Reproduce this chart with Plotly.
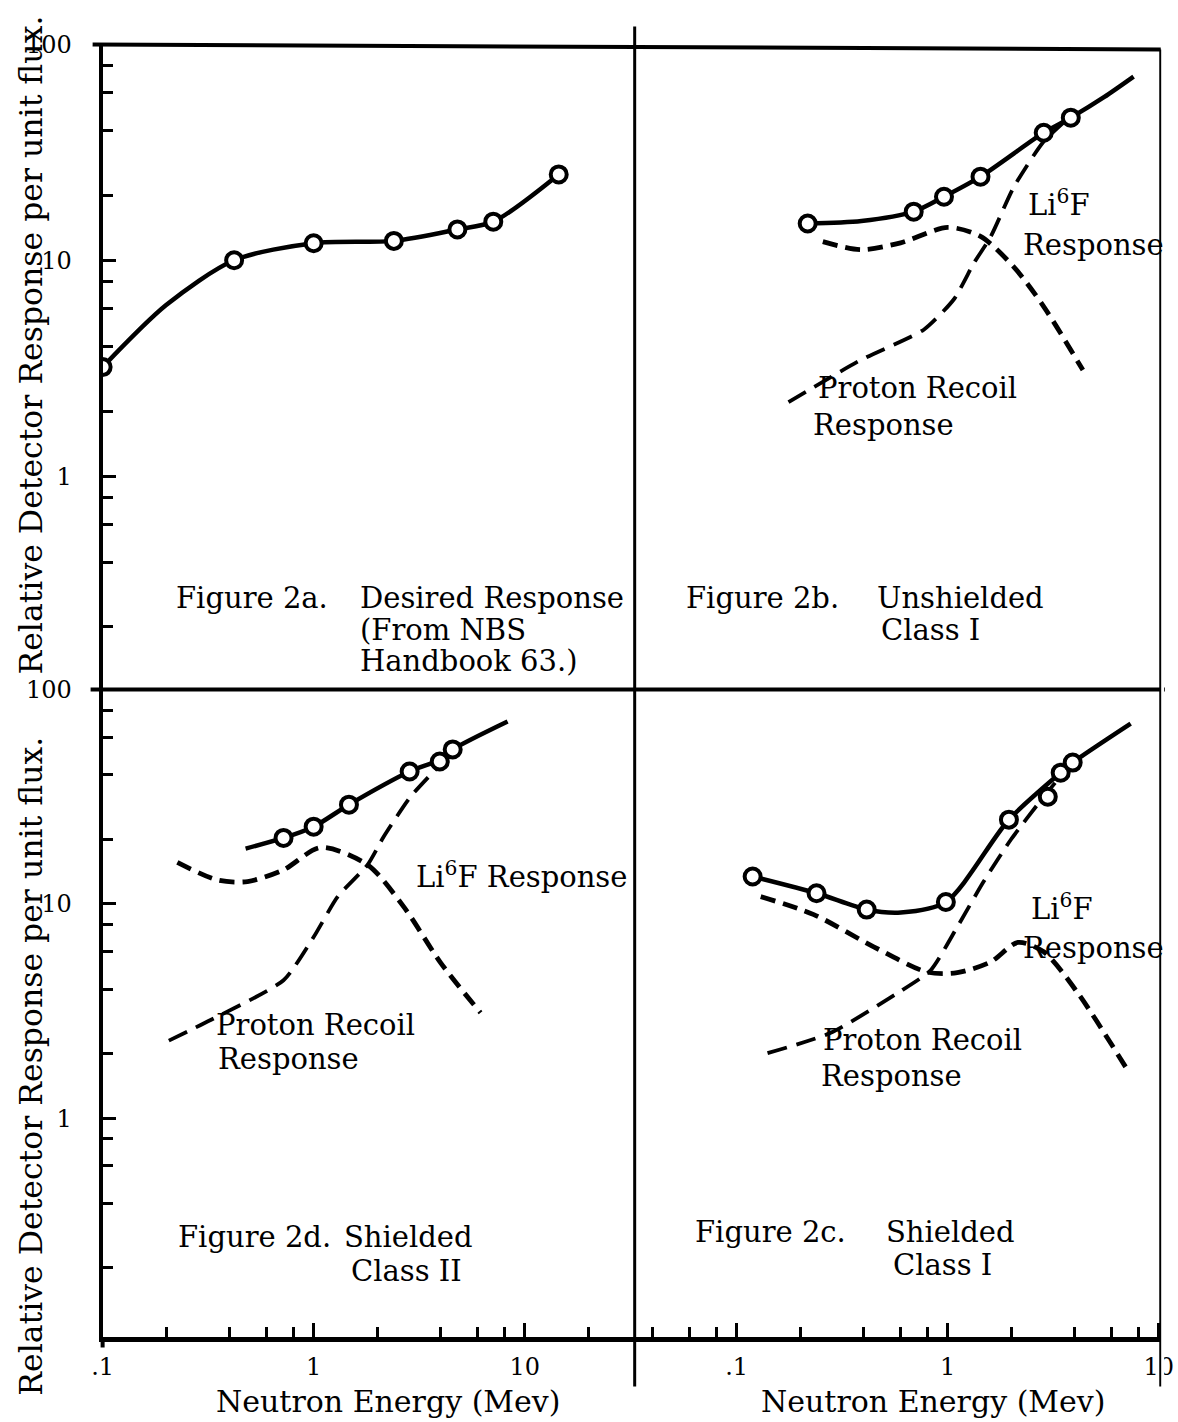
import plotly.graph_objects as go

W, H = 1178, 1422

# ---------------- data ----------------
# Figure 2a  Desired response
fig2a_curve_energy = [0.1, 0.2, 0.42, 1.0, 2.4, 4.8, 7.1, 14.5]
fig2a_curve_resp = [3.2, 6.2, 10.0, 12.0, 12.3, 13.9, 15.1, 25.0]
fig2a_pts_energy = [0.1, 0.42, 1.0, 2.4, 4.8, 7.1, 14.5]
fig2a_pts_resp = [3.2, 10.0, 12.0, 12.3, 13.9, 15.1, 25.0]

# Figure 2b  Unshielded Class I
fig2b_curve_energy = [0.217, 0.39, 0.69, 0.96, 1.43, 2.85, 3.83, 5.5, 7.6]
fig2b_curve_resp = [14.8, 15.2, 16.8, 19.7, 24.4, 39.0, 45.8, 57.0, 71.0]
fig2b_pts_energy = [0.217, 0.69, 0.96, 1.43, 2.85, 3.83]
fig2b_pts_resp = [14.8, 16.8, 19.7, 24.4, 39.0, 45.8]
fig2b_lif_energy = [0.256, 0.387, 0.598, 1.0, 1.43, 2.06, 2.85, 4.37]
fig2b_lif_resp = [12.2, 11.2, 12.05, 14.2, 12.9, 9.3, 6.1, 3.1]
fig2b_proton_energy = [0.176, 0.387, 0.77, 1.07, 1.33, 1.6, 2.06, 2.85, 3.96]
fig2b_proton_resp = [2.2, 3.45, 4.77, 6.6, 9.7, 12.9, 21.9, 35.5, 48.0]

# Figure 2d  Shielded Class II
fig2d_curve_energy = [0.476, 0.72, 1.0, 1.47, 2.85, 3.96, 4.56, 8.3]
fig2d_curve_resp = [18.1, 20.3, 22.9, 29.0, 41.4, 47.0, 52.5, 70.9]
fig2d_pts_energy = [0.72, 1.0, 1.47, 2.85, 3.96, 4.56]
fig2d_pts_resp = [20.3, 22.9, 29.0, 41.4, 46.1, 52.5]
fig2d_lif_energy = [0.226, 0.351, 0.486, 0.72, 1.08, 1.8, 2.67, 4.0, 6.18]
fig2d_lif_resp = [15.6, 12.9, 12.7, 14.4, 18.3, 15.2, 9.7, 5.3, 3.1]
fig2d_proton_energy = [0.206, 0.325, 0.72, 1.0, 1.3, 1.8, 2.15, 2.88, 3.87]
fig2d_proton_resp = [2.3, 2.87, 4.4, 7.0, 10.8, 15.2, 20.6, 31.6, 43.3]

# Figure 2c  Shielded Class I
fig2c_curve_energy = [0.119, 0.239, 0.413, 0.6, 0.98, 1.95, 3.43, 3.91, 7.36]
fig2c_curve_resp = [13.4, 11.2, 9.4, 9.1, 10.2, 24.7, 40.9, 45.6, 69.3]
fig2c_pts_energy = [0.119, 0.239, 0.413, 0.98, 1.95, 2.98, 3.43, 3.91]
fig2c_pts_resp = [13.4, 11.2, 9.4, 10.2, 24.7, 31.6, 40.9, 45.6]
fig2c_lif_energy = [0.13, 0.232, 0.446, 0.80, 1.11, 1.6, 2.15, 2.85, 4.13, 7.13]
fig2c_lif_resp = [10.8, 8.9, 6.3, 4.8, 4.77, 5.36, 6.6, 5.97, 3.84, 1.67]
fig2c_proton_energy = [0.14, 0.279, 0.58, 0.83, 1.11, 1.48, 1.99, 2.85, 3.55]
fig2c_proton_resp = [2.01, 2.5, 3.84, 4.9, 7.8, 12.7, 19.9, 31.6, 41.0]

# ticks
y_major_vals = [1, 10, 100]
y_major_text = ["1", "10", "100"]
y_minor_vals = [0.2, 0.4, 0.6, 0.8, 2, 4, 6, 8, 20, 40, 60, 80]
xl_major_vals = [0.1, 1, 10]
xl_major_text = [".1", "1", "10"]
xl_minor_vals = [0.2, 0.4, 0.6, 0.8, 2, 4, 6, 8, 20]
xr_major_vals = [0.1, 1, 10]
xr_major_text = [".1", "1", "10"]
xr_minor_vals = [0.04, 0.06, 0.08, 0.2, 0.4, 0.6, 0.8, 2, 4, 6, 8]

FONT = "DejaVu Serif"

# positions below are given in target-picture pixels and converted to paper fractions
OX, SX = 10.4, 0.9795
OY, SY = 14.6, 0.9886


def px(xp):
    return min(max((xp - OX) / SX / W, 0.0), 1.0)


def py(yp):
    return min(max(1 - (yp - OY) / SY / H, 0.0), 1.0)


fig = go.Figure()

SOLID = dict(color="black", width=4.5, shape="spline", smoothing=0.8)
LIF = dict(color="black", width=4.8, dash="15px,8px", shape="spline", smoothing=0.8)
PROTON = dict(color="black", width=3.8, dash="20px,10px", shape="spline", smoothing=0.6)
MARK = dict(symbol="circle", size=16, color="white", line=dict(color="black", width=4))


def add_panel(xa, ya, cx, cy, pxs, pys, lx=None, ly=None, prx=None, pry=None):
    if lx is not None:
        fig.add_trace(go.Scatter(x=lx, y=ly, mode="lines", line=LIF, xaxis=xa, yaxis=ya,
                                 showlegend=False, hoverinfo="skip"))
    if prx is not None:
        fig.add_trace(go.Scatter(x=prx, y=pry, mode="lines", line=PROTON, xaxis=xa, yaxis=ya,
                                 showlegend=False, hoverinfo="skip"))
    fig.add_trace(go.Scatter(x=cx, y=cy, mode="lines", line=SOLID, xaxis=xa, yaxis=ya,
                             showlegend=False, hoverinfo="skip"))
    fig.add_trace(go.Scatter(x=pxs, y=pys, mode="markers", marker=MARK, xaxis=xa, yaxis=ya,
                             showlegend=False, hoverinfo="skip"))


# bottom-left (2d): x / y ; bottom-right (2c): x2 / y2 ; top-left (2a): x3 / y3 ; top-right (2b): x4 / y4
add_panel("x3", "y3", fig2a_curve_energy, fig2a_curve_resp, fig2a_pts_energy, fig2a_pts_resp)
add_panel("x4", "y4", fig2b_curve_energy, fig2b_curve_resp, fig2b_pts_energy, fig2b_pts_resp,
          fig2b_lif_energy, fig2b_lif_resp, fig2b_proton_energy, fig2b_proton_resp)
add_panel("x", "y", fig2d_curve_energy, fig2d_curve_resp, fig2d_pts_energy, fig2d_pts_resp,
          fig2d_lif_energy, fig2d_lif_resp, fig2d_proton_energy, fig2d_proton_resp)
add_panel("x2", "y2", fig2c_curve_energy, fig2c_curve_resp, fig2c_pts_energy, fig2c_pts_resp,
          fig2c_lif_energy, fig2c_lif_resp, fig2c_proton_energy, fig2c_proton_resp)

XL, XM, XR = 102, 634, 1160
YT, YM, YB = 45, 689, 1336

xl_range = [-1, -1 + (XM - XL) / 211.0]
xr_range = [-1 - (736 - XM) / 211.0, -1 + (XR - 736) / 211.0]
top_range = [2 - (YM - YT) / 215.5, 2]
bot_range = [2 - (YB - YM) / 214.0, 2]

tickfont = dict(family=FONT, size=24, color="black")
minor_x = dict(ticks="inside", ticklen=10, tickwidth=3, tickcolor="black", showgrid=False)
common_hidden = dict(type="log", showgrid=False, zeroline=False, showticklabels=False,
                     ticks="", showline=False)


def yaxis_visible(domain, rng, anchor):
    return dict(type="log", domain=domain, range=rng, anchor=anchor,
                showline=True, linewidth=4, linecolor="black",
                ticks="inside", ticklen=13, tickwidth=3, tickcolor="black",
                tickvals=y_major_vals, ticktext=y_major_text, tickfont=tickfont,
                ticklabelstandoff=22, showgrid=False, zeroline=False,
                minor=dict(tickvals=y_minor_vals, ticks="inside", ticklen=10, tickwidth=3,
                           tickcolor="black", showgrid=False))


def xaxis_visible(domain, rng, anchor, majors, texts, minors):
    return dict(type="log", domain=domain, range=rng, anchor=anchor,
                showline=True, linewidth=5, linecolor="black",
                ticks="inside", ticklen=14, tickwidth=3, tickcolor="black",
                tickvals=majors, ticktext=texts, tickfont=tickfont,
                ticklabelstandoff=4, showgrid=False, zeroline=False,
                ticklabeloverflow="allow",
                minor=dict(tickvals=minors, **minor_x))


fig.update_layout(
    width=W, height=H, autosize=False,
    margin=dict(l=0, r=0, t=0, b=0, pad=0),
    paper_bgcolor="white", plot_bgcolor="white",
    showlegend=False,
    xaxis=xaxis_visible([px(XL), px(XM)], xl_range, "y", xl_major_vals, xl_major_text, xl_minor_vals),
    xaxis2=xaxis_visible([px(XM), px(XR)], xr_range, "y2", xr_major_vals, xr_major_text, xr_minor_vals),
    xaxis3=dict(domain=[px(XL), px(XM)], range=xl_range, anchor="y3", **common_hidden),
    xaxis4=dict(domain=[px(XM), px(XR)], range=xr_range, anchor="y4", **common_hidden),
    yaxis=yaxis_visible([py(YB), py(YM)], bot_range, "x"),
    yaxis2=dict(domain=[py(YB), py(YM)], range=bot_range, anchor="x2", **common_hidden),
    yaxis3=yaxis_visible([py(YM), py(YT)], top_range, "x3"),
    yaxis4=dict(domain=[py(YM), py(YT)], range=top_range, anchor="x4", **common_hidden),
)

# frame lines (layout decoration), in target-picture pixels
frame = [
    (92, YT, XR, YT + 5, 4),
    (90, YM, 1200, YM, 4),
    (XM, 27, XM, 1385, 3),
    (XR, YT + 5, XR, 1385, 3),
    (XL, YB, XL, 1346, 4),
]
for x0, y0, x1, y1, w in frame:
    fig.add_shape(type="line", xref="paper", yref="paper",
                  x0=px(x0), y0=py(y0), x1=px(x1), y1=py(y1),
                  line=dict(color="black", width=w), layer="above")

# page border (white, same colour as the background)
fig.add_shape(type="rect", xref="paper", yref="paper", x0=0.002, y0=0.002, x1=0.998, y1=0.998,
              line=dict(color="white", width=3))

LBL = 29
labels = [
    ("Figure 2a.", 173, 598), ("Desired Response", 357, 598),
    ("(From NBS", 357, 630), ("Handbook 63.)", 357, 661),
    ("Figure 2b.", 683, 598), ("Unshielded", 874, 598), ("Class I", 878, 630),
    ("Li<sup>6</sup>F", 1025, 203), ("Response", 1020, 245),
    ("Proton Recoil", 815, 388), ("Response", 810, 425),
    ("Li<sup>6</sup>F Response", 413, 874),
    ("Proton Recoil", 213, 1024), ("Response", 215, 1058),
    ("Figure 2d.", 175, 1236), ("Shielded", 341, 1236), ("Class II", 348, 1270),
    ("Li<sup>6</sup>F", 1028, 906), ("Response", 1020, 947),
    ("Proton Recoil", 820, 1039), ("Response", 818, 1075),
    ("Figure 2c.", 692, 1231), ("Shielded", 883, 1231), ("Class I", 890, 1264),
]
for t, xp, yp in labels:
    fig.add_annotation(text=t, x=px(xp), y=py(yp), xref="paper", yref="paper",
                       xanchor="left", yanchor="middle", showarrow=False,
                       font=dict(family=FONT, size=LBL, color="black"))

y_title = "Relative Detector Response per unit flux."
for yc in (345, 1065):
    fig.add_annotation(text=y_title, x=px(30), y=py(yc), xref="paper", yref="paper",
                       xanchor="center", yanchor="middle", textangle=-90, showarrow=False,
                       font=dict(family=FONT, size=31.5, color="black"))
x_title = "Neutron Energy (Mev)"
for xc in (387, 932):
    fig.add_annotation(text=x_title, x=px(xc), y=py(1400), xref="paper", yref="paper",
                       xanchor="center", yanchor="middle", showarrow=False,
                       font=dict(family=FONT, size=30, color="black"))

fig.write_html("out.html", config={"displayModeBar": False},
               post_script="document.body.style.margin='0';")
